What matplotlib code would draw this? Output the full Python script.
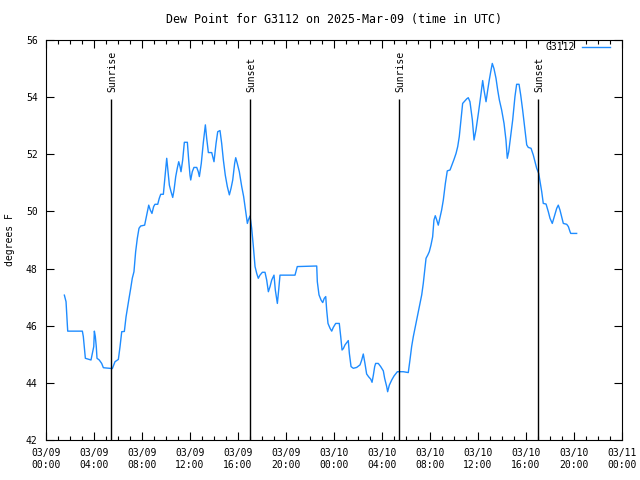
import matplotlib
matplotlib.use("Agg")
from matplotlib import pyplot as plt
from matplotlib.ticker import MultipleLocator

# hours since 03/09 00:00 UTC
hours = [1.53, 1.67, 1.72, 1.78, 1.81, 3.03, 3.11, 3.19, 3.28, 3.75, 3.98, 4.03, 4.11, 4.19, 4.25,
         4.44, 4.64, 4.78, 5.53, 5.75, 6.03, 6.17, 6.31, 6.53, 6.67, 6.78, 6.92, 7.06, 7.19, 7.33,
         7.47, 7.61, 7.75, 7.89, 8.22, 8.39, 8.56, 8.69, 8.83, 8.97, 9.08, 9.31, 9.44, 9.56, 9.78,
         9.92, 10.06, 10.17, 10.28, 10.42, 10.56, 10.67, 10.81, 10.94, 11.06, 11.17, 11.25, 11.39,
         11.53, 11.78, 11.89, 12.0, 12.06, 12.19, 12.33, 12.56, 12.69, 12.78, 12.94, 13.11, 13.28,
         13.39, 13.53, 13.81, 14.0, 14.17, 14.31, 14.5, 14.64, 14.78, 14.94, 15.11, 15.28, 15.42,
         15.56, 15.72, 15.81, 15.94, 16.11, 16.31, 16.47, 16.64, 16.78, 16.86, 17.0, 17.14, 17.28,
         17.42, 17.56, 17.69, 17.83, 18.03, 18.25, 18.39, 18.53, 18.67, 18.81, 19.0, 19.11, 19.28,
         19.39, 19.5, 20.75, 20.94, 22.56, 22.61, 22.75, 22.92, 23.06, 23.19, 23.31, 23.39, 23.5,
         23.67, 23.81, 23.94, 24.14, 24.44, 24.56, 24.67, 24.78, 24.92, 25.06, 25.19, 25.28, 25.42,
         25.61, 25.89, 26.17, 26.31, 26.44, 26.58, 26.72, 26.89, 27.06, 27.17, 27.28, 27.39, 27.47,
         27.69, 27.89, 28.11, 28.22, 28.39, 28.47, 28.61, 28.81, 29.0, 29.17, 29.28, 29.78, 30.19,
         30.33, 30.47, 30.61, 30.75, 30.89, 31.03, 31.17, 31.31, 31.44, 31.56, 31.67, 31.81, 31.94,
         32.08, 32.22, 32.33, 32.44, 32.56, 32.69, 32.83, 32.97, 33.11, 33.28, 33.44, 33.67, 33.83,
         34.0, 34.17, 34.31, 34.44, 34.58, 34.72, 35.06, 35.19, 35.33, 35.53, 35.67, 35.83, 36.03,
         36.22, 36.39, 36.5, 36.67, 36.81, 36.94, 37.06, 37.19, 37.33, 37.5, 37.64, 37.78, 37.97,
         38.17, 38.33, 38.44, 38.56, 38.72, 38.89, 39.08, 39.22, 39.42, 39.56, 39.72, 39.92, 40.06,
         40.19, 40.42, 40.61, 40.75, 40.89, 41.06, 41.17, 41.31, 41.44, 41.67, 41.86, 42.0, 42.19,
         42.36, 42.56, 42.69, 42.83, 42.97, 43.11, 43.39, 43.53, 43.67, 43.73, 44.22]

dewpoint = [47.07, 46.84, 46.44, 46.02, 45.81, 45.81, 45.62, 45.27, 44.86, 44.8, 45.27, 45.81, 45.62,
            45.27, 44.86, 44.8, 44.68, 44.53, 44.5, 44.74, 44.82, 45.27, 45.79, 45.8, 46.31, 46.6,
            46.96, 47.31, 47.66, 47.89, 48.59, 49.06, 49.41, 49.49, 49.52, 49.87, 50.22, 50.05,
            49.93, 50.17, 50.25, 50.25, 50.46, 50.6, 50.6, 51.22, 51.86, 51.39, 50.92, 50.69, 50.49,
            50.75, 51.22, 51.51, 51.74, 51.57, 51.39, 51.8, 52.42, 52.42, 51.8, 51.27, 51.1, 51.39,
            51.54, 51.54, 51.39, 51.22, 51.68, 52.41, 53.03, 52.56, 52.06, 52.06, 51.74, 52.38,
            52.79, 52.83, 52.38, 51.8, 51.27, 50.87, 50.58, 50.81, 51.1, 51.68, 51.88, 51.68, 51.39,
            50.87, 50.52, 49.99, 49.58, 49.7, 49.84, 49.41, 48.77, 48.07, 47.83, 47.66, 47.77, 47.87,
            47.87, 47.6, 47.19, 47.37, 47.6, 47.77, 47.25, 46.78, 47.25, 47.77, 47.77, 48.07, 48.09,
            47.54, 47.08, 46.9, 46.81, 46.96, 47.02, 46.55, 46.08, 45.91, 45.81, 45.94, 46.08, 46.08,
            45.62, 45.15, 45.2, 45.33, 45.41, 45.48, 45.03, 44.57, 44.51, 44.54, 44.63, 44.8, 45.01,
            44.68, 44.31, 44.21, 44.13, 44.02, 44.27, 44.57, 44.68, 44.68, 44.57, 44.42, 44.16, 43.87,
            43.69, 43.92, 44.1, 44.24, 44.33, 44.39, 44.39, 44.36, 44.8, 45.27, 45.62, 45.91, 46.2,
            46.49, 46.78, 47.08, 47.48, 47.95, 48.36, 48.47, 48.59, 48.82, 49.11, 49.7, 49.85, 49.7,
            49.52, 49.79, 50.05, 50.4, 50.98, 51.42, 51.45, 51.63, 51.82, 52.03, 52.27, 52.62, 53.2,
            53.78, 53.94, 53.98, 53.84, 53.2, 52.5, 52.85, 53.43, 54.02, 54.58, 54.25, 53.84, 54.25,
            54.6, 54.89, 55.18, 55.0, 54.66, 54.25, 53.9, 53.55, 53.08, 52.5, 51.86, 52.09, 52.62,
            53.2, 54.02, 54.45, 54.45, 54.07, 53.55, 52.85, 52.33, 52.24, 52.21, 51.97, 51.74, 51.51,
            51.33, 51.04, 50.69, 50.28, 50.26, 49.99, 49.76, 49.58, 49.82, 50.11, 50.22, 50.05,
            49.82, 49.58, 49.55, 49.47, 49.29, 49.23, 49.23]

sun_hours = [5.43, 17.02, 29.43, 41.02]
sun_labels = ["Sunrise", "Sunset", "Sunrise", "Sunset"]

tick_hours = list(range(0, 49, 4))
tick_labels = ["03/09\n00:00", "03/09\n04:00", "03/09\n08:00", "03/09\n12:00", "03/09\n16:00",
               "03/09\n20:00", "03/10\n00:00", "03/10\n04:00", "03/10\n08:00", "03/10\n12:00",
               "03/10\n16:00", "03/10\n20:00", "03/11\n00:00"]

plt.rcParams["font.family"] = "DejaVu Sans Mono"
plt.rcParams["font.size"] = 7

fig = plt.figure(figsize=(6.4, 4.8), dpi=100)
ax = fig.add_axes([46 / 640, 40 / 480, 576 / 640, 400 / 480])

ax.plot(hours, dewpoint, color="#1e8cff", lw=1, label="G3112")

ax.vlines(sun_hours, 42, 53.93, color="black", lw=1)
for h, lab in zip(sun_hours, sun_labels):
    ax.text(h + 0.1, 54.18, lab, rotation=90, ha="center", va="bottom")

ax.set_xlim(0, 48)
ax.set_ylim(42, 56)
ax.set_xticks(tick_hours)
ax.set_xticklabels(tick_labels)
ax.xaxis.set_minor_locator(MultipleLocator(1))
ax.yaxis.set_major_locator(MultipleLocator(2))
ax.tick_params(which="both", direction="in", top=True, right=True, width=0.8)
ax.tick_params(which="major", length=6, pad=6)
ax.tick_params(which="minor", length=3)
for s in ax.spines.values():
    s.set_linewidth(0.8)

ax.set_title("Dew Point for G3112 on 2025-Mar-09 (time in UTC)", pad=12)
fig.text(10 / 640, 0.5, "degrees F", rotation=90, ha="center", va="center")

ax.legend(loc="upper right", bbox_to_anchor=(1 - 12 / 576, 1 - 2 / 400), frameon=False,
          markerfirst=False, handlelength=2.9, handletextpad=0.7, borderaxespad=0, borderpad=0)

plt.savefig("out.png")
